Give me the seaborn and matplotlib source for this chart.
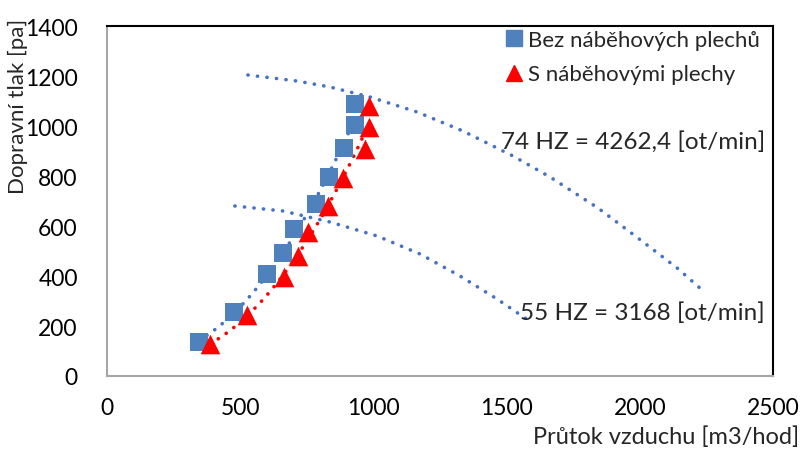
import numpy as np
import pandas as pd
import matplotlib
matplotlib.use("Agg")
import matplotlib.pyplot as plt
from matplotlib.lines import Line2D
import seaborn as sns

# ---- data ----
bez_x = [345, 477, 600, 661, 702, 785, 833, 890, 931, 931]
bez_y = [136, 256, 408, 492, 588, 688, 796, 912, 1004, 1088]
s_x = [387, 526, 664, 717, 755, 830, 886, 968, 983, 983]
s_y = [128, 244, 396, 480, 576, 680, 792, 908, 996, 1080]

hz74_x = [529, 713, 837, 987, 1164, 1336, 1524, 1663, 1843, 1993, 2140, 2234]
hz74_y = [1204, 1180, 1156, 1116, 1056, 980, 880, 796, 672, 552, 432, 344]
hz55_x = [480, 661, 837, 1014, 1175, 1325, 1464, 1580]
hz55_y = [680, 660, 616, 560, 488, 400, 308, 224]

labels = ["Bez náběhových plechů", "S náběhovými plechy"]
label74 = "74 HZ = 4262,4 [ot/min]"
label55 = "55 HZ = 3168 [ot/min]"
xlabel = "Průtok vzduchu [m3/hod]"
ylabel = "Dopravní tlak [pa]"
xticks = [0, 500, 1000, 1500, 2000, 2500]
yticks = [0, 200, 400, 600, 800, 1000, 1200, 1400]

BLUE = "#4F81BD"
LINEBLUE = "#4472C4"
RED = "#FF0000"

sns.set_theme(style="white")
plt.rcParams['font.family'] = ['Lato', 'DejaVu Sans']

fig = plt.figure(figsize=(8.08, 4.52), dpi=100)
ax = fig.add_axes([107/808, 1-377/452, 666/808, 350/452])

dot = dict(linestyle=(0, (0.05, 2.6)), linewidth=2.6, dash_capstyle='round')

# fan curves
sns.lineplot(x=hz74_x, y=hz74_y, ax=ax, color=LINEBLUE, estimator=None, sort=False, **dot)
sns.lineplot(x=hz55_x, y=hz55_y, ax=ax, color=LINEBLUE, estimator=None, sort=False, **dot)

# polynomial trendlines (Excel-like)
for xs, ys, col in [(bez_x, bez_y, LINEBLUE), (s_x, s_y, RED)]:
    c = np.polyfit(xs, ys, 2)
    xx = np.linspace(min(xs), max(xs), 100)
    sns.lineplot(x=xx, y=np.polyval(c, xx), ax=ax, color=col, estimator=None, sort=False, **dot)

# markers
sns.scatterplot(x=bez_x, y=bez_y, ax=ax, marker='s', s=180, color=BLUE, edgecolor=BLUE, linewidth=0, zorder=5)
sns.scatterplot(x=s_x, y=s_y, ax=ax, marker='^', s=200, color=RED, edgecolor=RED, linewidth=0, zorder=6)

ax.set_xlim(0, 2500)
ax.set_ylim(0, 1400)
ax.set_xticks(xticks)
ax.set_yticks(yticks)
ax.tick_params(axis='both', length=0, labelsize=16.5, colors='black')
ax.tick_params(axis='y', pad=21)
ax.tick_params(axis='x', pad=15)
ax.set_xlabel("")
ax.set_ylabel("")

for side in ['left', 'bottom']:
    ax.spines[side].set_color('#A6A6A6')
    ax.spines[side].set_linewidth(1.5)
for side in ['top', 'right']:
    ax.spines[side].set_color('black')
    ax.spines[side].set_linewidth(1.5)

fig.text(18/808, 1-106/452, ylabel, rotation=90, ha='center', va='center', fontsize=16)
fig.text(666/808, 1-437/452, xlabel, ha='center', va='center', fontsize=17)

ax.text(0.988, (377-142)/350, label74, transform=ax.transAxes, ha='right', va='center', fontsize=17.5)
ax.text(0.988, (377-313)/350, label55, transform=ax.transAxes, ha='right', va='center', fontsize=17.5)

handles = [Line2D([], [], marker='s', linestyle='none', color=BLUE, markersize=11),
           Line2D([], [], marker='^', linestyle='none', color=RED, markersize=12)]
ax.legend(handles, labels, loc='upper left', bbox_to_anchor=((506-107)/666, 1-(31-27)/350),
          frameon=False, fontsize=16, handlelength=0.7, handletextpad=0.3,
          labelspacing=0.65, borderpad=0, borderaxespad=0)

fig.savefig("out.png", dpi=100)
